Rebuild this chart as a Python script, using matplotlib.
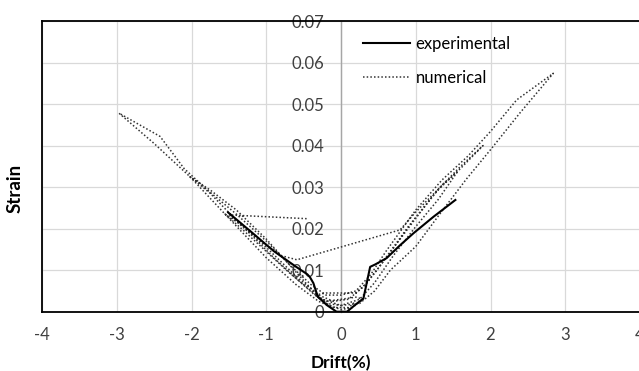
import matplotlib
matplotlib.use("Agg")
import matplotlib.pyplot as plt

plt.rcParams['font.family'] = ['Lato', 'DejaVu Sans']

# Experimental curve (drift %, strain)
exp_drift = [-1.51, -1.2, -0.9, -0.6, -0.45, -0.415, -0.37, -0.31, -0.19, -0.06, 0.08,
             0.18, 0.3, 0.39, 0.46, 0.61, 0.79, 0.97, 1.24, 1.53]
exp_strain = [0.0239, 0.0192, 0.0146, 0.0108, 0.0090, 0.0083, 0.0069, 0.0036, 0.0016, 0.0,
              0.0, 0.0015, 0.0032, 0.0108, 0.0114, 0.0129, 0.0160, 0.0189, 0.0229, 0.0269]

# Numerical curve (drift %, strain)
num_drift = [-0.46, -1.49, -1.2, -0.9, -0.6, -0.35, -0.15, 0.0,
             0.15, 0.3, 0.2, 0.0, -0.2, -0.35, -0.2, 0.0, 0.2, 0.35,
             0.5, 0.7, 0.9, 1.1, 1.35, 1.55,
             1.3, 1.0, 0.7, 0.45, 0.25, 0.0, -0.2, -0.4, -0.7, -1.0, -1.3, -1.55,
             -1.3, -1.0, -0.8, -0.59,
             0.79, 1.0, 1.3, 1.6, 1.9,
             1.6, 1.28, 1.0, 0.75, 0.5, 0.3, 0.1, -0.1, -0.3, -0.6, -1.0, -1.4, -1.75, -2.02,
             -1.75, -1.4, -1.0, -0.7, -0.45, -0.25, 0.0, 0.25, 0.45, 0.66, 1.0, 1.3, 1.68, 2.0, 2.4, 2.84,
             2.35, 2.0, 1.7, 1.35, 1.0, 0.8, 0.6, 0.4, 0.2, 0.0, -0.2, -0.4, -0.7, -1.0, -1.4, -1.8, -2.1, -2.42, -2.97,
             -2.5, -2.02, -1.5, -1.0, -0.6, -0.3, -0.1, 0.1, 0.2]
num_strain = [0.0224, 0.0233, 0.0185, 0.0130, 0.0080, 0.0040, 0.0015, 0.0005,
              0.0010, 0.0030, 0.0035, 0.0030, 0.0025, 0.0040, 0.0045, 0.0045, 0.0045, 0.0070,
              0.0105, 0.0155, 0.0205, 0.0250, 0.0305, 0.0335,
              0.0270, 0.0205, 0.0135, 0.0070, 0.0030, 0.0015, 0.0020, 0.0050, 0.0095, 0.0145, 0.0195, 0.0235,
              0.0205, 0.0160, 0.0135, 0.0125,
              0.0197, 0.0240, 0.0295, 0.0350, 0.0400,
              0.0345, 0.0290, 0.0225, 0.0165, 0.0105, 0.0060, 0.0030, 0.0025, 0.0040, 0.0085, 0.0155, 0.0220, 0.0285, 0.0325,
              0.0293, 0.0245, 0.0175, 0.0115, 0.0065, 0.0030, 0.0015, 0.0020, 0.0050, 0.0100, 0.0157, 0.0230, 0.0320, 0.0390, 0.0480, 0.0574,
              0.0510, 0.0434, 0.0375, 0.0317, 0.0245, 0.0195, 0.0145, 0.0090, 0.0050, 0.0040, 0.0040, 0.0065, 0.0115, 0.0170, 0.0235, 0.0295, 0.0345, 0.0422, 0.0478,
              0.0405, 0.0325, 0.0225, 0.0130, 0.0065, 0.0025, 0.0010, 0.0010, 0.0025]

x_ticks = [-4, -3, -2, -1, 0, 1, 2, 3, 4]
y_ticks = [0, 0.01, 0.02, 0.03, 0.04, 0.05, 0.06, 0.07]
y_tick_labels = ['0', '0.01', '0.02', '0.03', '0.04', '0.05', '0.06', '0.07']

fig = plt.figure(figsize=(6.39, 3.71), dpi=100)
ax = fig.add_axes([42/639, 1 - 311.7/371, 598/639, (311.7 - 21)/371])

ax.set_xlim(-4, 4)
ax.set_ylim(0, 0.07)
ax.set_xticks(x_ticks)
ax.set_xticklabels([str(v) for v in x_ticks])
ax.set_yticks(y_ticks)
ax.set_yticklabels(y_tick_labels)

ax.grid(True, color='#d9d9d9', linewidth=0.9, zorder=0)
ax.set_axisbelow(True)

# axis line at x = 0 (Excel style)
ax.spines['left'].set_position(('data', 0))
ax.spines['left'].set_color('#a6a6a6')
ax.spines['left'].set_linewidth(1.0)
ax.spines['right'].set_visible(False)
ax.spines['top'].set_color('black')
ax.spines['top'].set_linewidth(1.3)
ax.spines['bottom'].set_color('black')
ax.spines['bottom'].set_linewidth(1.3)
ax.axvline(-4, color='black', linewidth=1.3, clip_on=False, zorder=5)

ax.tick_params(axis='both', length=0, labelsize=12, colors='#404040')
ax.tick_params(axis='x', pad=11)
ax.tick_params(axis='y', pad=12)

ax.plot(num_drift, num_strain, color='#333333', linewidth=1.1,
        linestyle=(0, (1, 1.4)), label='numerical', zorder=3)
ax.plot(exp_drift, exp_strain, color='black', linewidth=1.5,
        linestyle='-', label='experimental', zorder=4)

handles, labels = ax.get_legend_handles_labels()
ax.legend(handles[::-1], labels[::-1], loc='upper left',
          bbox_to_anchor=((348 - 42)/598, 1.0), frameon=False,
          fontsize=12, handlelength=2.8, labelspacing=1.1, handletextpad=0.36)

ax.set_xlabel('Drift(%)', fontsize=12.5, fontweight='bold', color='black')
ax.set_ylabel('Strain', fontsize=13.5, fontweight='bold', color='black')
ax.xaxis.set_label_coords(0.5, -0.148)
ax.yaxis.set_label_coords(-0.031, 0.4255)

fig.savefig('out.png', dpi=100)
